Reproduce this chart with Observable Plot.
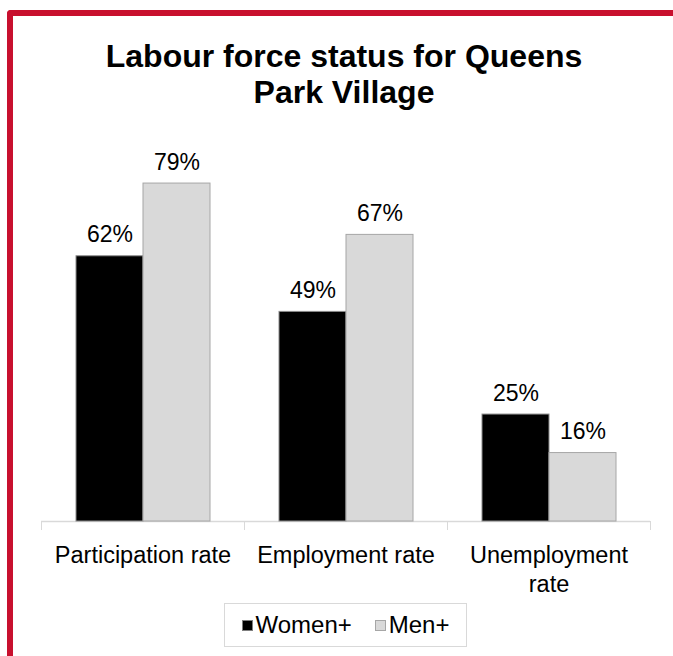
<!DOCTYPE html>
<html>
<head>
<meta charset="utf-8">
<script src="https://cdn.jsdelivr.net/npm/d3@7"></script>
<script src="https://cdn.jsdelivr.net/npm/@observablehq/plot@0.6"></script>
<style>
  html, body { margin: 0; padding: 0; background: #fff; }
  #wrap { position: relative; width: 673px; height: 656px; overflow: hidden; font-family: "Liberation Sans", Arial, sans-serif; }
  #border { position: absolute; left: 7px; top: 10px; width: 700px; height: 700px; border-left: 6px solid #c8102e; border-top: 6px solid #c8102e; border-top-left-radius: 4px; }
  #title { position: absolute; left: 15px; width: 658px; top: 38px; text-align: center; font-weight: bold; font-size: 32px; line-height: 36px; color: #000; }
  #chart { position: absolute; left: 0; top: 110px; }
  #legend { position: absolute; left: 224px; top: 603px; width: 243px; height: 44px; box-sizing: border-box; border: 1px solid #d9d9d9; display: flex; align-items: center; justify-content: center; font-size: 24px; color: #000; background: #fff; }
  .item { display: flex; align-items: center; }
  .item + .item { margin-left: 23px; }
  .sw { width: 11px; height: 11px; box-sizing: border-box; margin-right: 3px; }
</style>
</head>
<body>
<div id="wrap">
  <div id="border"></div>
  <div id="title">Labour force status for Queens<br>Park Village</div>
  <div id="chart"></div>
  <div id="legend"></div>
</div>
<script>
const categories = ["Participation rate", "Employment rate", "Unemployment rate"];
const groups = ["Women+", "Men+"];
const women = [62, 49, 25];
const men = [79, 67, 16];
const fills = ["#000000", "#d9d9d9"];
const strokes = ["#8c8c8c", "#a6a6a6"];

const data = categories.flatMap((c, i) => [
  {category: c, group: groups[0], value: women[i]},
  {category: c, group: groups[1], value: men[i]}
]);

const plot = Plot.plot({
  width: 673,
  height: 490,
  marginLeft: 40,
  marginRight: 23,
  marginTop: 26,
  marginBottom: 79,
  style: {fontFamily: "'Liberation Sans', Arial, sans-serif", color: "#000", background: "transparent"},
  fx: {domain: categories, padding: 0, label: null},
  x: {domain: groups, paddingInner: 0, paddingOuter: 0.5, axis: null},
  y: {domain: [0, 90], axis: null},
  color: {domain: groups, range: fills},
  marks: [
    Plot.ruleY([0], {stroke: "#d9d9d9", strokeWidth: 1.5}),
    Plot.frame({anchor: "left", stroke: "#d9d9d9", strokeOpacity: 1, insetTop: 385, insetBottom: -8}),
    Plot.frame({anchor: "right", stroke: "#d9d9d9", strokeOpacity: 1, insetTop: 385, insetBottom: -8}),
    Plot.barY(data, {fx: "category", x: "group", y: "value", fill: "group",
      stroke: d => strokes[groups.indexOf(d.group)], strokeWidth: 1}),
    Plot.text(data, {fx: "category", x: "group", y: "value", text: d => d.value + "%",
      dy: -14, lineAnchor: "bottom", fontSize: 23, fill: "#000"}),
    Plot.axisFx({anchor: "bottom", tickSize: 0, tickPadding: 21, fontSize: 23.5, lineHeight: 1.23,
      label: null, tickFormat: d => d === "Unemployment rate" ? "Unemployment\nrate" : d})
  ]
});
document.getElementById("chart").appendChild(plot);

const legend = d3.select("#legend");
groups.forEach((g, i) => {
  const it = legend.append("div").attr("class", "item");
  it.append("div").attr("class", "sw").style("background", fills[i]).style("border", `1px solid ${i === 0 ? "#7f7f7f" : "#a6a6a6"}`);
  it.append("span").text(g);
});
</script>
</body>
</html>
